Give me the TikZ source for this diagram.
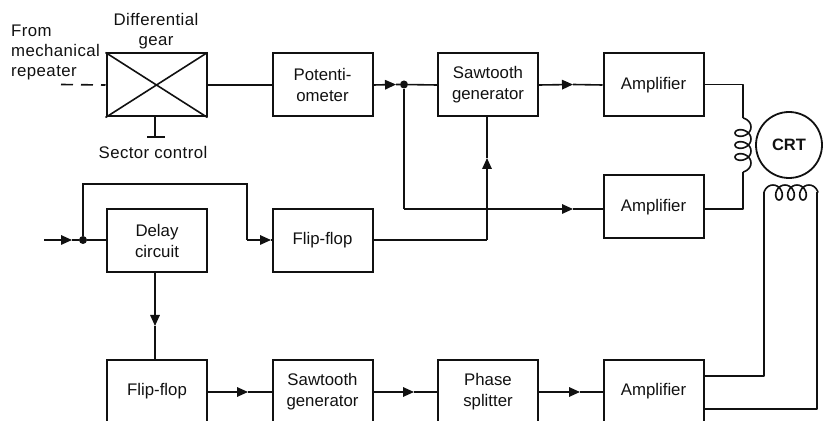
\documentclass[tikz,border=0pt]{standalone}
\usepackage{fontspec}
\setmainfont{Liberation Sans}
\usetikzlibrary{arrows.meta}
\definecolor{ink}{HTML}{111111}
\tikzset{
  x=1pt,y=-1pt,
  block/.style={draw=ink,line width=2pt,minimum width=100pt,minimum height=63pt,inner sep=0pt,align=center,font=\fontsize{16.8}{21}\selectfont,text=ink},
  label/.style={inner sep=0pt,align=center,font=\fontsize{16.8}{20}\selectfont\addfontfeature{LetterSpace=2.5},text=ink},
  wire/.style={draw=ink,line width=1.6pt},
  arr/.style={wire,-{Triangle[length=11pt,width=9.5pt]}},
  junction/.style={circle,fill=ink,inner sep=0pt,minimum size=8pt},
}
\begin{document}
\begin{tikzpicture}
\useasboundingbox (0,0) rectangle (823,422);
\clip (0,0) rectangle (823,420.5);
% blocks
\node[block] (gear) at (156.5,85) {};
\node[block] (pot) at (322.5,85) {Potenti-\\ometer};
\node[block] (saw1) at (488,85) {Sawtooth\\generator};
\node[block] (amp1) at (653.5,85) {Amplifier};
\node[block] (amp2) at (653.5,207) {Amplifier};
\node[block] (delay) at (157,240.5) {Delay\\circuit};
\node[block] (ff1) at (322.5,240.5) {Flip-flop};
\node[block] (ff2) at (157,391.5) {Flip-flop};
\node[block] (saw2) at (322.5,391.5) {Sawtooth\\generator};
\node[block] (phase) at (488,391.5) {Phase\\splitter};
\node[block] (amp3) at (653.5,391.5) {Amplifier};
\draw[wire] (gear.north west) -- (gear.south east);
\draw[wire] (gear.south west) -- (gear.north east);
% labels
\node[label] (l1) at (156,31) {Differential\\gear};
\node[label,align=left,anchor=west] (l2) at (11,52) {From\\mechanical\\repeater};
\node[label] (l3) at (153,152.5) {Sector control};
\node[circle,draw=ink,line width=1.8pt,minimum size=66pt,inner sep=0pt,font=\fontsize{16.5}{20}\selectfont\bfseries,text=ink] (crt) at (789,145) {CRT};
% coordinates
\coordinate (in1) at (61,84.5);
\coordinate (sectorend) at (155,137);
\coordinate (barL) at (147,137);
\coordinate (barR) at (165,137);
\coordinate (tipA) at (396,84.5);
\coordinate (tipB) at (573,84.5);
\node[junction] (dot1) at (404,84.5) {};
\coordinate (c1) at (404,209);
\coordinate (tipC) at (573,209);
\coordinate (c2) at (487,240);
\coordinate (tipD) at (487,158);
\coordinate (in2) at (44,240);
\coordinate (tipE) at (72,240);
\node[junction] (dot2) at (83,240) {};
\coordinate (c3) at (83,184);
\coordinate (c4) at (247,184);
\coordinate (c5) at (247,240);
\coordinate (tipF) at (271,240);
\coordinate (tipG) at (155,326);
\coordinate (tipH) at (248,392);
\coordinate (tipI) at (414,392);
\coordinate (tipJ) at (580,392);
\coordinate (coilTop) at (743,118);
\coordinate (coilBot) at (743,172);
\coordinate (hL) at (764,192.5);
\coordinate (hR) at (818,192.5);
% connectors
\draw[wire,dash pattern=on 12pt off 8pt] (in1) -- (gear.west);
\draw[wire] (gear.east) -- (pot.west);
\draw[arr] (pot.east) -- (tipA);
\draw[wire] (tipA) -- (dot1) -- (saw1.west);
\draw[arr] (saw1.east) -- (tipB);
\draw[wire] (tipB) -- (amp1.west);
\draw[wire] (dot1) -- (c1);
\draw[arr] (c1) -- (tipC);
\draw[wire] (tipC) -- (amp2.west |- tipC);
\draw[wire] (ff1.east |- c2) -- (c2);
\draw[arr] (c2) -- (tipD);
\draw[wire] (tipD) -- (c2 |- saw1.south);
\draw[arr] (in2) -- (tipE);
\draw[wire] (tipE) -- (dot2) -- (delay.west |- dot2);
\draw[wire] (dot2) -- (c3) -- (c4) -- (c5);
\draw[arr] (c5) -- (tipF);
\draw[wire] (tipF) -- (ff1.west |- tipF);
\draw[arr] (delay.south -| tipG) -- (tipG);
\draw[wire] (tipG) -- (ff2.north -| tipG);
\draw[arr] (ff2.east |- tipH) -- (tipH);
\draw[wire] (tipH) -- (saw2.west |- tipH);
\draw[arr] (saw2.east |- tipI) -- (tipI);
\draw[wire] (tipI) -- (phase.west |- tipI);
\draw[arr] (phase.east |- tipJ) -- (tipJ);
\draw[wire] (tipJ) -- (amp3.west |- tipJ);
% sector control
\draw[wire] (gear.south -| sectorend) -- (sectorend);
\draw[wire] (barL) -- (barR);
% vertical coil and leads
\draw[wire,line join=round] (amp1.east |- 0,84.5) -- (743,84.5) -- (coilTop);
\draw[wire,line join=round] plot[smooth,domain=-90:1170,samples=85] ({743+8*cos(\x)},{127+12*\x/360+6*sin(\x)});
\draw[wire,line join=round] (coilBot) -- (743,209) -- (amp2.east |- 0,209);
% horizontal coil and leads
\draw[wire,line join=round] plot[smooth,domain=-90:1170,samples=85] ({773+12*\x/360+6*sin(\x)},{192.5-7.5*cos(\x)});
\draw[wire,line join=round] (amp3.east |- 0,376) -- (764,376) -- (hL);
\draw[wire,line join=round] (amp3.east |- 0,409) -- (817,409) -- (817,192.5);
\end{tikzpicture}
\end{document}
